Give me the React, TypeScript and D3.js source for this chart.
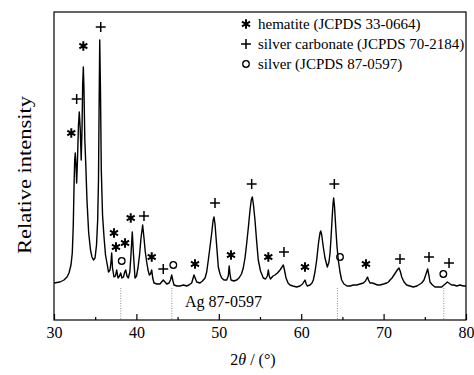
import { useEffect, useRef } from "react";
import * as d3 from "d3";

// XRD pattern (2θ in degrees, intensity in arbitrary units)
const twoTheta = [
  30.0, 30.73, 31.21, 31.58, 31.82, 32.06, 32.22, 32.34, 32.43, 32.51, 32.58, 32.67, 32.75, 32.85, 32.97,
  33.07, 33.19, 33.3, 33.4, 33.48, 33.56, 33.64, 33.74, 33.85, 34.0, 34.21, 34.43, 34.61, 34.79, 34.98,
  35.16, 35.3, 35.4, 35.46, 35.55, 35.64, 35.74, 35.89, 36.07, 36.25, 36.47, 36.61, 36.8, 36.92, 37.0,
  37.1, 37.28, 37.46, 37.61, 37.77, 37.95, 38.09, 38.25, 38.43, 38.58, 38.7, 38.86, 39.02, 39.2, 39.34,
  39.5, 39.65, 39.83, 40.01, 40.19, 40.38, 40.56, 40.76, 40.92, 41.08, 41.25, 41.41, 41.57, 41.71, 41.86,
  41.98, 42.14, 42.5, 42.86, 43.26, 43.68, 43.96, 44.14, 44.28, 44.44, 44.56, 44.93, 45.29, 45.72, 46.1,
  46.38, 46.71, 46.99, 47.32, 47.72, 48.02, 48.33, 48.53, 48.73, 48.93, 49.14, 49.3, 49.42, 49.54, 49.66,
  49.81, 49.94, 50.15, 50.35, 50.63, 50.96, 51.15, 51.26, 51.36, 51.48, 51.84, 52.17, 52.45, 52.75, 52.97,
  53.18, 53.39, 53.58, 53.79, 53.94, 54.07, 54.21, 54.39, 54.6, 54.79, 55.06, 55.4, 55.67, 55.89, 56.01,
  56.12, 56.27, 56.58, 56.82, 57.12, 57.43, 57.67, 57.83, 57.97, 58.16, 58.4, 58.64, 59.0, 59.45, 59.85,
  60.16, 60.46, 60.61, 60.74, 61.07, 61.31, 61.47, 61.67, 61.88, 62.1, 62.28, 62.37, 62.49, 62.68, 62.89,
  63.17, 63.37, 63.5, 63.62, 63.74, 63.86, 63.94, 64.04, 64.19, 64.34, 64.5, 64.71, 64.91, 65.19, 65.56,
  65.92, 66.35, 66.73, 67.14, 67.54, 67.8, 68.05, 68.17, 68.35, 68.65, 68.96, 69.26, 69.56, 69.99, 70.38,
  70.59, 70.78, 71.02, 71.26, 71.5, 71.75, 71.87, 72.05, 72.2, 72.48, 72.8, 73.2, 73.6, 74.05, 74.62,
  74.9, 75.15, 75.35, 75.51, 75.63, 75.93, 76.24, 76.6, 77.05, 77.33, 77.61, 77.73, 77.91, 78.26, 78.54,
  78.87, 79.27, 79.67, 80.0,
];
const intensity = [
  37, 38, 40, 43, 47, 55, 67, 95, 133, 160, 167, 155, 137, 160, 195,
  208, 190, 160, 190, 235, 253, 230, 180, 157, 120, 87, 70, 63, 60, 62,
  75, 100, 140, 200, 280, 230, 150, 105, 83, 65, 55, 48, 50, 58, 67,
  52, 43, 44, 50, 42, 44, 47, 42, 43, 48, 50, 44, 42, 48, 65,
  88, 65, 42, 44, 52, 65, 82, 95, 82, 68, 58, 50, 45, 46, 50,
  42, 37, 36, 36, 40, 36, 37, 40, 45, 39, 35, 34, 34, 35, 34,
  35, 37, 45, 38, 37, 39, 42, 48, 60, 73, 87, 99, 103, 96, 83,
  67, 53, 46, 42, 40, 40, 44, 54, 46, 40, 39, 40, 42, 46, 52,
  62, 77, 92, 110, 120, 123, 115, 100, 78, 60, 49, 42, 41, 44, 50,
  44, 41, 44, 45, 47, 50, 53, 55, 50, 42, 37, 35, 34, 33, 34,
  36, 40, 36, 34, 35, 37, 40, 48, 60, 77, 87, 89, 85, 73, 62,
  53, 58, 67, 82, 100, 116, 122, 114, 93, 74, 60, 48, 40, 36, 34,
  34, 35, 35, 36, 37, 39, 43, 40, 37, 37, 36, 35, 35, 36, 37,
  38, 40, 42, 45, 48, 51, 52, 48, 43, 38, 35, 34, 33, 34, 37,
  40, 46, 51, 44, 38, 35, 33, 33, 33, 35, 37, 38, 37, 35, 35,
  34, 35, 34, 34,
];

// phase markers placed above the peaks
const hematiteAt = [32.1, 33.56, 37.28, 37.52, 38.62, 39.31, 41.86, 47.11, 51.48, 56.01, 60.46, 67.86];
const hematiteY = [187, 274, 87, 73, 77, 102, 63, 56, 65, 63, 53, 56];
const carbonateAt = [32.75, 35.67, 40.92, 43.26, 49.54, 53.99, 57.91, 64.02, 71.99, 75.51, 77.94];
const carbonateY = [221, 293, 104, 51, 117, 136, 68, 136, 61, 63, 57];
const silverAt = [38.22, 44.48, 64.71, 77.25];
const silverY = [59, 55, 63, 46];

// Ag 87-0597 reference positions
const agLines = [38.1, 44.3, 64.4, 77.3];

const xMajor = [30, 40, 50, 60, 70, 80];
const xMinor = [35, 45, 55, 65, 75];
const legendLabels = [
  "hematite (JCPDS 33-0664)",
  "silver carbonate (JCPDS 70-2184)",
  "silver (JCPDS 87-0597)",
];

const W = 474;
const H = 375;
const margin = { top: 12, right: 8, bottom: 55, left: 54 };
const FONT = "'Liberation Serif', 'Times New Roman', serif";

const App = () => {
  const ref = useRef<SVGSVGElement>(null);

  useEffect(() => {
    const svg = d3.select(ref.current);
    svg.selectAll("*").remove();

    const x = d3.scaleLinear().domain([30, 80]).range([margin.left, W - margin.right]);
    const y = d3.scaleLinear().domain([0, 308]).range([H - margin.bottom, margin.top]);

    const g = svg.append("g").attr("font-family", FONT);

    // Ag reference lines
    g.selectAll("line.ag")
      .data(agLines)
      .join("line")
      .attr("class", "ag")
      .attr("x1", d => x(d))
      .attr("x2", d => x(d))
      .attr("y1", y(32))
      .attr("y2", y(0))
      .attr("stroke", "#777")
      .attr("stroke-width", 0.8)
      .attr("stroke-dasharray", "1,1.5");

    g.append("text")
      .attr("x", x(45.9))
      .attr("y", y(13))
      .attr("font-size", 16)
      .text("Ag 87-0597");

    // pattern
    const pts = twoTheta.map((t, i) => [t, intensity[i]] as [number, number]);
    const line = d3.line<[number, number]>().x(d => x(d[0])).y(d => y(d[1]));
    g.append("path")
      .attr("d", line(pts))
      .attr("fill", "none")
      .attr("stroke", "#000")
      .attr("stroke-width", 1.4)
      .attr("stroke-linejoin", "round");

    // markers
    const star = d3.symbol().type(d3.symbolAsterisk).size(60)();
    const plus = d3.symbol().type(d3.symbolPlus).size(34)();
    const circ = d3.symbol().type(d3.symbolCircle).size(34)();

    const drawMarks = (xs: number[], ys: number[], path: string | null, sw: number) => {
      g.append("g")
        .selectAll("path")
        .data(xs)
        .join("path")
        .attr("transform", (d, i) => `translate(${x(d)},${y(ys[i])})`)
        .attr("d", path)
        .attr("fill", "none")
        .attr("stroke", "#000")
        .attr("stroke-width", sw);
    };
    drawMarks(hematiteAt, hematiteY, star, 2);
    drawMarks(carbonateAt, carbonateY, plus, 1.5);
    drawMarks(silverAt, silverY, circ, 1.3);

    // legend
    const legX = 258;
    const legY = [29, 49, 69];
    const legSyms = [star, plus, circ];
    const legSw = [2, 1.5, 1.3];
    legendLabels.forEach((lab, i) => {
      g.append("path")
        .attr("transform", `translate(${legX - 12},${legY[i] - 5})`)
        .attr("d", legSyms[i])
        .attr("fill", "none")
        .attr("stroke", "#000")
        .attr("stroke-width", legSw[i]);
      g.append("text")
        .attr("x", legX)
        .attr("y", legY[i])
        .attr("font-size", 15)
        .text(lab);
    });

    // frame
    g.append("rect")
      .attr("x", margin.left)
      .attr("y", margin.top)
      .attr("width", W - margin.left - margin.right)
      .attr("height", H - margin.top - margin.bottom)
      .attr("fill", "none")
      .attr("stroke", "#000")
      .attr("stroke-width", 1.2);

    // x axis (ticks inward)
    const axMajor = g.append("g")
      .attr("transform", `translate(0,${H - margin.bottom})`)
      .call(d3.axisBottom(x).tickValues(xMajor).tickSize(-6).tickPadding(7).tickFormat(d3.format("d")));
    axMajor.select(".domain").remove();
    axMajor.selectAll("text").attr("font-family", FONT).attr("font-size", 16).attr("fill", "#000");
    axMajor.selectAll("line").attr("stroke-width", 1.2);

    const axMinor = g.append("g")
      .attr("transform", `translate(0,${H - margin.bottom})`)
      .call(d3.axisBottom(x).tickValues(xMinor).tickSize(-3).tickFormat(() => ""));
    axMinor.select(".domain").remove();
    axMinor.selectAll("line").attr("stroke-width", 1.2);

    // axis titles
    const xt = g.append("text")
      .attr("x", 253)
      .attr("y", 365)
      .attr("text-anchor", "middle")
      .attr("font-size", 16);
    xt.append("tspan").text("2");
    xt.append("tspan").attr("font-style", "italic").text("θ");
    xt.append("tspan").text(" / (°)");

    g.append("text")
      .attr("transform", "translate(31,175) rotate(-90)")
      .attr("text-anchor", "middle")
      .attr("font-size", 19)
      .attr("textLength", 158)
      .attr("lengthAdjust", "spacingAndGlyphs")
      .text("Relative intensity");
  }, []);

  return (
    <svg
      ref={ref}
      width={W}
      height={H}
      style={{ position: "absolute", left: 0, top: 0, background: "#fff" }}
    />
  );
};

export default App;
